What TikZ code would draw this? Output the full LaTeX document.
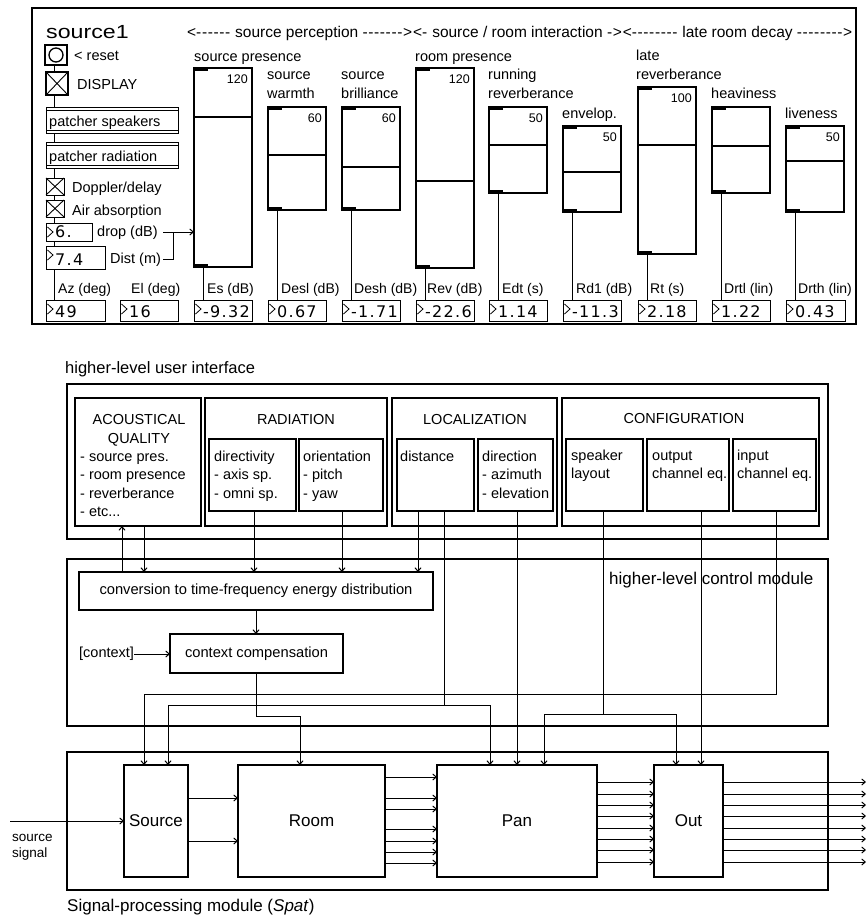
\documentclass[tikz,border=0pt]{standalone}
\usepackage{fontspec}
\setmainfont{Liberation Sans}
\newfontfamily\numfont[LetterSpace=8]{DejaVu Sans}
\usetikzlibrary{arrows.meta}
\newcommand\fs[1]{\fontsize{#1}{#1}\selectfont}
\newcommand\hy{-\kern0.6pt}
% number box: name x y w h value
\newcommand\nbox[6]{%
  \node[bx, minimum width=#4pt, minimum height=#5pt] (#1) at (#2,#3) {};
  \draw[line width=0.8pt] ({#2+1.5},{#3+4}) -- ({#2+7},{#3+9}) -- ({#2+1.5},{#3+14});
  \node[nv, anchor=base west] (#1v) at ({#2+9},{#3+#5-4}) {#6};
}
% slider: name x top mid bottom number
\newcommand\slider[6]{%
  \node[bx, line width=1.1pt, minimum width=58pt, minimum height={(#5-#3)*1pt}] (#1) at (#2,#3) {};
  \draw[line width=1.1pt] (#2,#4) -- ({#2+58},#4);
  \draw[line width=2.4pt] ({#2+1},{#3+1.5}) -- ({#2+14},{#3+1.5});
  \draw[line width=2.4pt] ({#2+1},{#5-1.5}) -- ({#2+14},{#5-1.5});
  \node[inner sep=0pt, font=\fs{12.5}, anchor=base east] (#1n) at ({#2+54},{#3+15}) {#6};
}
\begin{document}
\begin{tikzpicture}[x=1pt,y=-1pt,
  ln/.style={line width=1pt},
  bx/.style={draw, line width=1pt, fill=white, anchor=north west, inner sep=0pt, outer sep=0pt},
  arr/.style={line width=1pt, -{Straight Barb[length=3.5pt,width=6pt]}},
  tp/.style={inner sep=0pt, font=\fs{14.5}},
  lb/.style={inner sep=0pt, font=\fs{14}},
  mb/.style={inner sep=0pt, font=\fs{14.5}},
  nv/.style={inner sep=0pt, font=\numfont\fs{16}},
]
\useasboundingbox (0,0) rectangle (867,919);

% ================= TOP PANEL =================
\node[bx, line width=1.2pt, fill=none, minimum width=824pt, minimum height=316pt] (panel) at (32,8) {};
\node[inner sep=0pt, anchor=base west, font=\fs{19}] (title) at (46,38) {\scalebox{1.22}[1]{source1}};
\node[inner sep=0pt, anchor=base west] (hdr) at (187,37) {\resizebox{665pt}{!}{\fs{15}<\hy\hy\hy\hy\hy\hy{} source perception \hy\hy\hy\hy\hy\hy\hy>\kern1pt<\hy{} source / room interaction \hy>\kern1pt<\hy\hy\hy\hy\hy\hy\hy\hy{} late room decay \hy\hy\hy\hy\hy\hy\hy\hy>}};

% left column spine
\draw[ln] (54,60) -- (54,300);

\node[bx, line width=1.6pt, minimum width=22pt, minimum height=20pt] (reset) at (45,45) {};
\draw[line width=1.3pt] (reset.center) circle (7);
\node[tp, anchor=base west] (resetl) at (74,60) {< reset};

\node[bx, line width=1.3pt, minimum width=22pt, minimum height=23pt] (disp) at (46,72) {};
\draw[line width=0.9pt] (disp.north west) -- (disp.south east) (disp.south west) -- (disp.north east);
\node[tp, anchor=base west] (displ) at (77,89) {DISPLAY};

\node[bx, minimum width=132pt, minimum height=26pt] (pspk) at (46,107) {};
\draw[ln] (46,110) -- (178,110) (46,130) -- (178,130);
\node[tp, anchor=base west] (pspkl) at (49,126) {patcher speakers};
\node[bx, minimum width=132pt, minimum height=26pt] (prad) at (46,142) {};
\draw[ln] (46,145) -- (178,145) (46,165) -- (178,165);
\node[tp, anchor=base west] (pradl) at (49,161) {patcher radiation};

\node[bx, minimum width=18pt, minimum height=17pt] (dop) at (46,178) {};
\draw[line width=0.9pt] (dop.north west) -- (dop.south east) (dop.south west) -- (dop.north east);
\node[tp, anchor=base west] (dopl) at (72,192) {Doppler/delay};
\node[bx, minimum width=18pt, minimum height=17pt] (air) at (46,200) {};
\draw[line width=0.9pt] (air.north west) -- (air.south east) (air.south west) -- (air.north east);
\node[tp, anchor=base west] (airl) at (72,215) {Air absorption};

\nbox{drop}{46}{223}{46}{18}{6.}
\node[tp, anchor=base west] (dropl) at (97,236) {drop (dB)};
\nbox{dist2}{46}{246}{59}{23}{7.4}
\node[tp, anchor=base west] (distl) at (110,263) {Dist (m)};

% sliders
\slider{s1}{194}{68}{117}{267}{120}
\slider{s2}{268}{107}{155}{210}{60}
\slider{s3}{342}{107}{167}{210}{60}
\slider{s4}{416}{68}{181}{268}{120}
\slider{s5}{489}{107}{145}{193}{50}
\slider{s6}{563}{126}{172}{212}{50}
\slider{s7}{638}{87}{145}{254}{100}
\slider{s8}{712}{107}{146}{193}{}
\slider{s9}{786}{126}{161}{212}{50}

\coordinate (dj) at (163,232);
\coordinate (dk) at (173,232);
\draw[arr] (dj) -- (s1.west |- dj);
\draw[ln] (163,259) -| (dk);

% slider titles
\node[tp, anchor=base west] (t1) at (194,61) {source presence};
\node[tp, anchor=base west] (t2a) at (267,79) {source};
\node[tp, anchor=base west] (t2b) at (267,98) {warmth};
\node[tp, anchor=base west] (t3a) at (341,79) {source};
\node[tp, anchor=base west] (t3b) at (341,98) {brilliance};
\node[tp, anchor=base west] (t4) at (415,61) {room presence};
\node[tp, anchor=base west] (t5a) at (488,79) {running};
\node[tp, anchor=base west] (t5b) at (488,98) {reverberance};
\node[tp, anchor=base west] (t6) at (562,118) {envelop.};
\node[tp, anchor=base west] (t7a) at (636,60) {late};
\node[tp, anchor=base west] (t7b) at (636,79) {reverberance};
\node[tp, anchor=base west] (t8) at (711,98) {heaviness};
\node[tp, anchor=base west] (t9) at (785,118) {liveness};

% number boxes
\nbox{naz}{46}{300}{59}{21}{49}
\nbox{nel}{120}{300}{58}{21}{16}
\nbox{n1}{194}{300}{58}{21}{-9.32}
\nbox{n2}{268}{300}{58}{21}{0.67}
\nbox{n3}{342}{300}{58}{21}{-1.71}
\nbox{n4}{416}{300}{58}{21}{-22.6}
\nbox{n5}{489}{300}{58}{21}{1.14}
\nbox{n6}{563}{300}{58}{21}{-11.3}
\nbox{n7}{638}{300}{58}{21}{2.18}
\nbox{n8}{712}{300}{58}{21}{1.22}
\nbox{n9}{786}{300}{59}{21}{0.43}

\foreach \i in {1,...,9} {
  \draw[ln] ([xshift=9pt]s\i.south west) -- ([xshift=9pt]n\i.north west);
}

\node[lb, anchor=base west] (laz) at (58,293) {Az (deg)};
\node[lb, anchor=base west] (lel) at (131,293) {El (deg)};
\node[lb, anchor=base west] (l1) at (207,293) {Es (dB)};
\node[lb, anchor=base west] (l2) at (281,293) {Desl (dB)};
\node[lb, anchor=base west] (l3) at (354,293) {Desh (dB)};
\node[lb, anchor=base west] (l4) at (427,293) {Rev (dB)};
\node[lb, anchor=base west] (l5) at (502,293) {Edt (s)};
\node[lb, anchor=base west] (l6) at (576,293) {Rd1 (dB)};
\node[lb, anchor=base west] (l7) at (650,293) {Rt (s)};
\node[lb, anchor=base west] (l8) at (724,293) {Drtl (lin)};
\node[lb, anchor=base west] (l9) at (798,293) {Drth (lin)};

% ================= USER INTERFACE =================
\node[inner sep=0pt, anchor=base west, font=\fs{16.5}] (uil) at (65,373) {higher-level user interface};
\node[bx, line width=2.6pt, fill=none, minimum width=761pt, minimum height=155pt] (ui) at (67,384) {};

\node[bx, line width=1.2pt, minimum width=126pt, minimum height=128pt] (aq) at (75,398) {};
\node[bx, line width=1.2pt, minimum width=182pt, minimum height=128pt] (rad) at (205,398) {};
\node[bx, line width=1.2pt, minimum width=165pt, minimum height=128pt] (loc) at (392,398) {};
\node[bx, line width=1.2pt, minimum width=257pt, minimum height=128pt] (cfg) at (562,398) {};
\node[bx, line width=1.2pt, minimum width=87pt, minimum height=72pt] (dirv) at (209,439) {};
\node[bx, line width=1.2pt, minimum width=84pt, minimum height=72pt] (ori) at (299,439) {};
\node[bx, line width=1.2pt, minimum width=77pt, minimum height=72pt] (dist) at (397,439) {};
\node[bx, line width=1.2pt, minimum width=75pt, minimum height=72pt] (dirn) at (478,439) {};
\node[bx, line width=1.2pt, minimum width=77pt, minimum height=72pt] (spk) at (566,439) {};
\node[bx, line width=1.2pt, minimum width=82pt, minimum height=72pt] (oeq) at (647,439) {};
\node[bx, line width=1.2pt, minimum width=83pt, minimum height=72pt] (ieq) at (733,439) {};

\node[mb, anchor=base] (aqh1) at (139,424) {ACOUSTICAL};
\node[mb, anchor=base] (aqh2) at (139,443) {QUALITY};
\node[mb, anchor=base west] (aq1) at (80,461) {- source pres.};
\node[mb, anchor=base west] (aq2) at (80,479.5) {- room presence};
\node[mb, anchor=base west] (aq3) at (80,498) {- reverberance};
\node[mb, anchor=base west] (aq4) at (80,516.5) {- etc...};
\node[mb, anchor=base] (radh) at (296,424) {RADIATION};
\node[mb, anchor=base] (loch) at (475,424) {LOCALIZATION};
\node[mb, anchor=base] (cfgh) at (684,423) {CONFIGURATION};
\node[mb, anchor=base west] (dv1) at (214,461) {directivity};
\node[mb, anchor=base west] (dv2) at (214,479.5) {- axis sp.};
\node[mb, anchor=base west] (dv3) at (214,498) {- omni sp.};
\node[mb, anchor=base west] (or1) at (303,461) {orientation};
\node[mb, anchor=base west] (or2) at (303,479.5) {- pitch};
\node[mb, anchor=base west] (or3) at (303,498) {- yaw};
\node[mb, anchor=base west] (ds1) at (400,461) {distance};
\node[mb, anchor=base west] (dr1) at (482,461) {direction};
\node[mb, anchor=base west] (dr2) at (482,479.5) {- azimuth};
\node[mb, anchor=base west] (dr3) at (482,498) {- elevation};
\node[mb, anchor=base west] (sp1) at (571,460) {speaker};
\node[mb, anchor=base west] (sp2) at (571,478.5) {layout};
\node[mb, anchor=base west] (oq1) at (652,460) {output};
\node[mb, anchor=base west] (oq2) at (652,478.5) {channel eq.};
\node[mb, anchor=base west] (iq1) at (737,460) {input};
\node[mb, anchor=base west] (iq2) at (737,478.5) {channel eq.};

% ================= CONTROL MODULE =================
\node[bx, line width=2.6pt, fill=none, minimum width=761pt, minimum height=167pt] (ctl) at (67,559) {};
\node[inner sep=0pt, anchor=base west, font=\fs{17}] (ctll) at (609,584) {higher-level control module};
\node[bx, line width=1.2pt, minimum width=354pt, minimum height=38pt, font=\fs{14.7}] (conv) at (79,572) {conversion to time-frequency energy distribution};
\node[bx, line width=1.2pt, minimum width=173pt, minimum height=39pt, font=\fs{14.7}] (cc) at (170,634) {context compensation};
\node[mb, anchor=west] (ctxl) at (79,654) {[context]};

% ================= SIGNAL PROCESSING =================
\node[bx, line width=2.6pt, fill=none, minimum width=761pt, minimum height=138pt] (spm) at (67,752) {};
\node[bx, line width=1.2pt, minimum width=64pt, minimum height=112pt, font=\fs{17}] (src) at (124,765) {Source};
\node[bx, line width=1.2pt, minimum width=147pt, minimum height=112pt, font=\fs{17}] (room) at (238,765) {Room};
\node[bx, line width=1.2pt, minimum width=160pt, minimum height=112pt, font=\fs{17}] (pan) at (437,765) {Pan};
\node[bx, line width=1.2pt, minimum width=69pt, minimum height=112pt, font=\fs{17}] (out) at (654,765) {Out};
\node[inner sep=0pt, anchor=base west, font=\fs{17}] (spml) at (67,911) {Signal-processing module (\textit{Spat})};
\node[inner sep=0pt, anchor=base west, font=\fs{13.5}] (sig1) at (12,841) {source};
\node[inner sep=0pt, anchor=base west, font=\fs{13.5}] (sig2) at (12,857) {signal};

% columns and levels
\foreach \c in {122,144,168,254,256,300,342,418,444,490,517,544,603,676,701,776} {
  \coordinate (X\c) at (\c,0);
}
\coordinate (Y694) at (0,694);
\coordinate (Y705) at (0,705);
\coordinate (Y714) at (0,714);
\coordinate (Y716) at (0,716);
\coordinate (sig) at (10,821);
\coordinate (outR) at (866,0);

% connectors UI <-> control
\draw[arr] (conv.north -| X122) -- (aq.south -| X122);
\draw[arr] (aq.south -| X144) -- (conv.north -| X144);
\draw[arr] (dirv.south -| X254) -- (conv.north -| X254);
\draw[arr] (ori.south -| X342) -- (conv.north -| X342);
\draw[arr] (dist.south -| X418) -- (conv.north -| X418);
\draw[ln] (dist.south -| X444) -- (Y705 -| X444);
\draw[arr] (Y705 -| X444) -- (Y705 -| X168) -- (src.north -| X168);
\draw[arr] (Y705 -| X444) -- (Y705 -| X490) -- (pan.north -| X490);
\draw[arr] (dirn.south -| X517) -- (pan.north -| X517);
\draw[ln] (spk.south -| X603) -- (Y714 -| X603);
\draw[arr] (Y714 -| X603) -- (Y714 -| X544) -- (pan.north -| X544);
\draw[arr] (Y714 -| X603) -- (Y714 -| X676) -- (out.north -| X676);
\draw[arr] (oeq.south -| X701) -- (out.north -| X701);
\draw[arr] (ieq.south -| X776) -- (Y694 -| X776) -- (Y694 -| X144) -- (src.north -| X144);
\draw[arr] (conv.south -| X256) -- (cc.north -| X256);
\draw[arr] (cc.south -| X256) -- (Y716 -| X256) -- (Y716 -| X300) -- (room.north -| X300);
\draw[arr] (ctxl.east) -- (cc.west |- ctxl.east);

% signal flow
\draw[arr] (sig) -- (src.west |- sig);
\foreach \y in {798,841} { \draw[arr] (src.east |- 0,\y) -- (room.west |- 0,\y); }
\foreach \y in {777,798,809,829,841,852,863} { \draw[arr] (room.east |- 0,\y) -- (pan.west |- 0,\y); }
\foreach \y in {782,794,805,816,828,839,850,862} {
  \draw[arr] (pan.east |- 0,\y) -- (out.west |- 0,\y);
  \draw[arr] (out.east |- 0,\y) -- (outR |- 0,\y);
}
\end{tikzpicture}
\end{document}
